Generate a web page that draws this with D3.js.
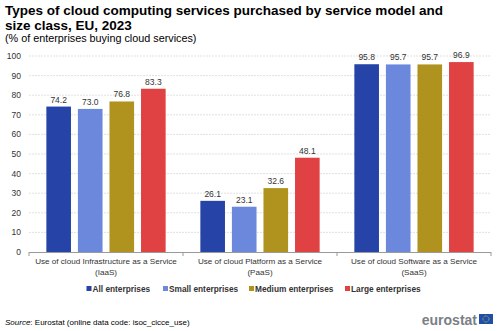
<!DOCTYPE html>
<html><head><meta charset="utf-8">
<script src="https://cdn.jsdelivr.net/npm/d3@7"></script>
<style>body{margin:0;background:#fff;font-family:Arial,"Liberation Sans",sans-serif;}</style>
</head><body><svg id="c" width="500" height="331"></svg>
<script>
const categories = [
  ["Use of cloud Infrastructure as a Service", "(IaaS)"],
  ["Use of cloud Platform as a Service", "(PaaS)"],
  ["Use of cloud Software as a Service", "(SaaS)"]
];
const seriesNames = ["All enterprises", "Small enterprises", "Medium enterprises", "Large enterprises"];
const allEnt = [74.2, 26.1, 95.8];
const smallEnt = [73.0, 23.1, 95.7];
const mediumEnt = [76.8, 32.6, 95.7];
const largeEnt = [83.3, 48.1, 96.9];
const yTicks = [0, 10, 20, 30, 40, 50, 60, 70, 80, 90, 100];
const colors = ["#2644A7", "#6B88DD", "#B0921F", "#E04243"];

const seriesVals = [allEnt, smallEnt, mediumEnt, largeEnt];
const svg = d3.select("#c");
const font = 'Arial,"Liberation Sans",sans-serif';

// title
svg.append("text").attr("x", 5).attr("y", 15).attr("font-size", 13.5).attr("font-weight", "bold").attr("fill", "#000").attr("font-family", font)
  .text("Types of cloud computing services purchased by service model and");
svg.append("text").attr("x", 5).attr("y", 30).attr("font-size", 13.5).attr("font-weight", "bold").attr("fill", "#000").attr("font-family", font)
  .text("size class, EU, 2023");
svg.append("text").attr("x", 5).attr("y", 42).attr("font-size", 10.8).attr("fill", "#000").attr("font-family", font)
  .text("(% of enterprises buying cloud services)");

const pLeft = 29, pRight = 491, pTop = 56, pBottom = 252;
const x0 = d3.scaleBand().domain(d3.range(categories.length)).range([pLeft, pRight]).padding(0);
const x1 = d3.scaleBand().domain(d3.range(seriesNames.length)).range([0, x0.bandwidth()]).paddingInner(0.22).paddingOuter(0.55);
const y = d3.scaleLinear().domain([0, 100]).range([pBottom, pTop]);

// grid
svg.append("g").selectAll("line").data(yTicks.filter(d => d > 0)).join("line")
  .attr("x1", pLeft).attr("x2", pRight).attr("y1", d => y(d)).attr("y2", d => y(d))
  .attr("stroke", "#d9d9d9").attr("stroke-width", 0.8).attr("stroke-dasharray", "2,1");

// y labels
svg.append("g").selectAll("text").data(yTicks).join("text")
  .attr("x", 21).attr("y", d => y(d) + 3).attr("text-anchor", "end")
  .attr("font-size", 8.5).attr("fill", "#333").attr("font-family", font).text(d => d);

// bars
const g = svg.append("g");
categories.forEach((c, ci) => {
  seriesVals.forEach((vals, si) => {
    const xx = x0(ci) + x1(si);
    g.append("rect").attr("x", xx).attr("y", y(vals[ci])).attr("width", x1.bandwidth())
      .attr("height", y(0) - y(vals[ci])).attr("fill", colors[si]);
    g.append("text").attr("x", xx + x1.bandwidth() / 2).attr("y", y(vals[ci]) - 4)
      .attr("text-anchor", "middle").attr("font-size", 8.5).attr("fill", "#333").attr("font-family", font)
      .text(d3.format(".1f")(vals[ci]));
  });
});

// x axis
svg.append("line").attr("x1", pLeft).attr("x2", pRight).attr("y1", pBottom + 0.5).attr("y2", pBottom + 0.5).attr("stroke", "#999").attr("stroke-width", 1);
const divs = [pLeft].concat(categories.map((c, i) => x0(i) + x0.bandwidth()));
svg.append("g").selectAll("line").data(divs).join("line")
  .attr("x1", d => d).attr("x2", d => d).attr("y1", pBottom).attr("y2", pBottom + 4).attr("stroke", "#999");
categories.forEach((c, ci) => {
  c.forEach((line, li) => {
    svg.append("text").attr("x", x0(ci) + x0.bandwidth() / 2).attr("y", pBottom + 12 + li * 11)
      .attr("text-anchor", "middle").attr("font-size", 8.1).attr("fill", "#333").attr("font-family", font).text(line);
  });
});

// legend
const legX = [86.5, 163, 249, 345];
seriesNames.forEach((s, i) => {
  svg.append("rect").attr("x", legX[i]).attr("y", 286).attr("width", 5).attr("height", 5).attr("fill", colors[i]);
  svg.append("text").attr("x", legX[i] + 6).attr("y", 292).attr("font-size", 8.3).attr("font-weight", "bold")
    .attr("fill", "#333").attr("font-family", font).text(s);
});

// source
const src = svg.append("text").attr("x", 5).attr("y", 325).attr("font-size", 8).attr("fill", "#000").attr("font-family", font);
src.append("tspan").attr("font-style", "italic").text("Source");
src.append("tspan").text(": Eurostat (online data code: isoc_cicce_use)");

// logo
svg.append("text").attr("x", 477).attr("y", 325).attr("text-anchor", "end").attr("font-size", 14).attr("font-weight", "bold")
  .attr("fill", "#7a7f87").attr("font-family", font).text("eurostat");
svg.append("rect").attr("x", 479).attr("y", 314).attr("width", 14).attr("height", 10).attr("fill", "#1f4fa8");
svg.append("circle").attr("cx", 486).attr("cy", 319).attr("r", 3).attr("fill", "none").attr("stroke", "#f3d23a").attr("stroke-width", 0.8).attr("stroke-dasharray", "0.8,0.8");
</script></body></html>
